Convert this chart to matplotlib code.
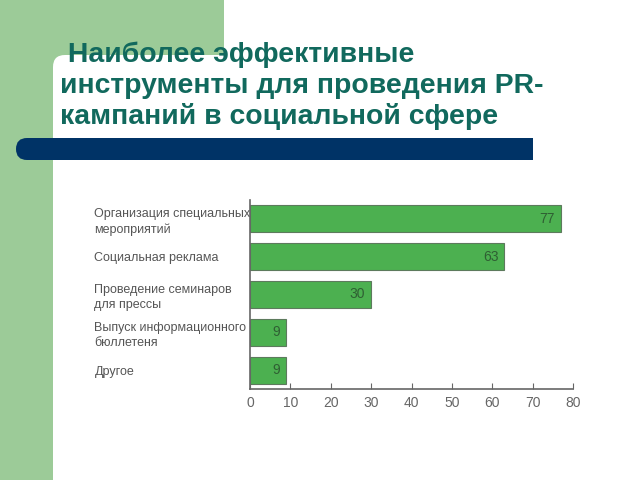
import matplotlib
matplotlib.use("Agg")
import matplotlib.pyplot as plt
from matplotlib.patches import Rectangle, FancyBboxPatch

# chart data
categories = [
    "Организация специальных\nмероприятий",
    "Социальная реклама",
    "Проведение семинаров\nдля прессы",
    "Выпуск информационного\nбюллетеня",
    "Другое",
]
values = [77, 63, 30, 9, 9]
x_ticks = [0, 10, 20, 30, 40, 50, 60, 70, 80]

title_lines = [
    " Наиболее эффективные",
    "инструменты для проведения PR-",
    "кампаний в социальной сфере",
]

# colours
slide_green = "#9ccb98"
navy = "#003366"
title_color = "#11695d"
bar_color = "#4cb050"

fig = plt.figure(figsize=(6.4, 4.8), dpi=100)

# slide background, drawn in pixel coordinates
bg = fig.add_axes([0, 0, 1, 1], zorder=0)
bg.set_xlim(0, 640)
bg.set_ylim(480, 0)
bg.axis("off")

bg.add_patch(Rectangle((0, 0), 224, 80, color=slide_green, lw=0))
bg.add_patch(Rectangle((0, 0), 53, 480, color=slide_green, lw=0))
bg.add_patch(FancyBboxPatch((65, 67), 700, 500,
                            boxstyle="round,pad=12,rounding_size=12",
                            color="white", lw=0))

# navy stripe, rounded on the left only
bg.add_patch(FancyBboxPatch((16, 138), 500, 22,
                            boxstyle="round,pad=0,rounding_size=11",
                            color=navy, lw=0))
bg.add_patch(Rectangle((480, 138), 53, 22, color=navy, lw=0))

for i, line in enumerate(title_lines):
    bg.text(60, 62 + 31 * i, line, fontsize=20.4, fontweight="bold",
            family="Liberation Sans", color=title_color,
            va="baseline", ha="left")

# bar chart
label_font = dict(family=["DejaVu Sans Condensed", "Liberation Sans"])
ax = fig.add_axes([250 / 640, 91 / 480, 323 / 640, 189 / 480], zorder=1)
ax.set_facecolor("none")
pos = range(len(values))
ax.barh(pos, values, height=0.71, color=bar_color, edgecolor="#5d7a5d", linewidth=0.8)

for p, v in zip(pos, values):
    ax.text(v - 1.5, p, str(v), ha="right", va="center", fontsize=10,
            color="#2f5f33", **label_font)

ax.set_xlim(0, 80)
ax.set_ylim(4.49, -0.49)
ax.set_xticks(x_ticks)
ax.set_xticklabels([str(t) for t in x_ticks], fontsize=10, color="#666666", **label_font)
ax.set_yticks(list(pos))
ax.set_yticklabels(categories, fontsize=9, color="#555555",
                   ha="left", linespacing=1.35, **label_font)
ax.tick_params(axis="y", length=0, pad=112)
ax.tick_params(axis="x", direction="in", length=4, color="#666666", pad=5)

for side in ["top", "right"]:
    ax.spines[side].set_visible(False)
for side in ["left", "bottom"]:
    ax.spines[side].set_color("#666666")
    ax.spines[side].set_linewidth(1.2)

fig.savefig("out.png", dpi=100)
